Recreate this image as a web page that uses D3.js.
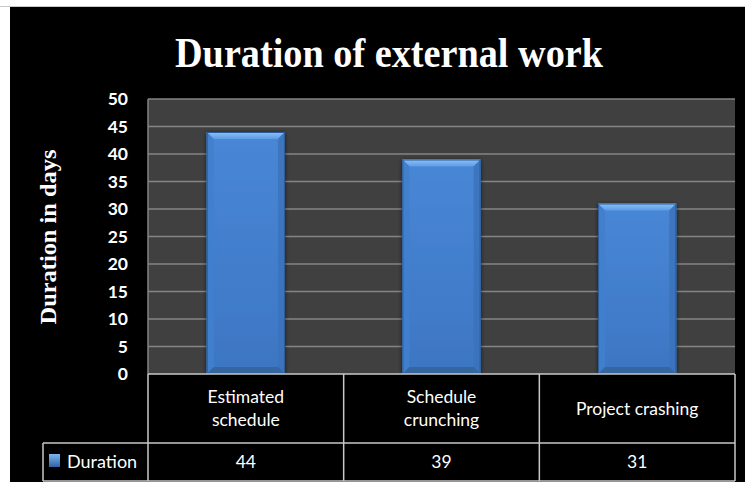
<!DOCTYPE html>
<html><head><meta charset="utf-8">
<script src="https://cdn.jsdelivr.net/npm/d3@7/dist/d3.min.js"></script>
<style>body{margin:0;background:#fff}svg{display:block}</style>
</head><body>
<svg id="c" width="745" height="484"></svg>
<script>
const categories = [["Estimated","schedule"],["Schedule","crunching"],["Project crashing"]];
const values = [44, 39, 31];
const seriesName = "Duration";
const yTicks = [0,5,10,15,20,25,30,35,40,45,50];
const title = "Duration of external work";
const yTitle = "Duration in days";

const svg = d3.select("#c");
svg.append("line").attr("x1",0).attr("x2",745).attr("y1",6.5).attr("y2",6.5).attr("stroke","#c8c8c8").attr("stroke-width",1);
svg.append("rect").attr("x",10).attr("y",7).attr("width",735).attr("height",475).attr("fill","#000");

const L=148, R=735, T=99, B=374;
const x = d3.scaleBand().domain(d3.range(categories.length)).range([L,R]).paddingInner(0.6).paddingOuter(0.3);
const xc = d3.scaleBand().domain(d3.range(categories.length)).range([L,R]);
const y = d3.scaleLinear().domain([0,50]).range([B,T]);

svg.append("rect").attr("x",L).attr("y",T).attr("width",R-L).attr("height",B-T).attr("fill","#404040");
svg.append("g").selectAll("line").data(yTicks.filter(d=>d>0)).join("line")
  .attr("x1",L).attr("x2",R).attr("y1",d=>y(d)).attr("y2",d=>y(d))
  .attr("stroke","#858585").attr("stroke-width",1.5);
svg.append("line").attr("x1",L).attr("x2",L).attr("y1",T).attr("y2",B).attr("stroke","#858585").attr("stroke-width",1.5);

const defs = svg.append("defs");
const g1 = defs.append("linearGradient").attr("id","body").attr("x1",0).attr("y1",0).attr("x2",0).attr("y2",1);
g1.append("stop").attr("offset","0").attr("stop-color","#4887d6");
g1.append("stop").attr("offset","1").attr("stop-color","#3d76c3");
const gt = defs.append("linearGradient").attr("id","top").attr("x1",0).attr("y1",0).attr("x2",0).attr("y2",1);
gt.append("stop").attr("offset","0").attr("stop-color","#8cc2f8");
gt.append("stop").attr("offset","1").attr("stop-color","#5c9be6");
const gs = defs.append("filter").attr("id","sh").attr("x","-20%").attr("y","-10%").attr("width","140%").attr("height","120%");
gs.append("feGaussianBlur").attr("in","SourceAlpha").attr("stdDeviation",2).attr("result","b");
gs.append("feOffset").attr("in","b").attr("dx",0).attr("dy",1).attr("result","o");
gs.append("feComponentTransfer").attr("in","o").attr("result","o2").append("feFuncA").attr("type","linear").attr("slope",0.6);
const fm = gs.append("feMerge"); fm.append("feMergeNode").attr("in","o2"); fm.append("feMergeNode").attr("in","SourceGraphic");

const bev = 7;
const bars = svg.append("g").selectAll("g").data(values).join("g").attr("filter","url(#sh)");
bars.each(function(v,i){
  const g = d3.select(this);
  const x0 = x(i), x1 = x(i)+x.bandwidth(), y0 = y(v), y1 = y(0);
  g.append("rect").attr("x",x0).attr("y",y0).attr("width",x1-x0).attr("height",y1-y0).attr("fill","url(#body)");
  g.append("polygon").attr("points",[[x0,y0],[x1,y0],[x1-bev,y0+bev],[x0+bev,y0+bev]].join(" ")).attr("fill","url(#top)");
  g.append("polygon").attr("points",[[x0,y0],[x0+bev,y0+bev],[x0+bev,y1-bev],[x0,y1]].join(" ")).attr("fill","#4180cd").attr("opacity",0.9);
  g.append("polygon").attr("points",[[x1,y0],[x1-bev,y0+bev],[x1-bev,y1-bev],[x1,y1]].join(" ")).attr("fill","#3b72bb").attr("opacity",0.9);
  g.append("polygon").attr("points",[[x0,y1],[x0+bev,y1-bev],[x1-bev,y1-bev],[x1,y1]].join(" ")).attr("fill","#34669f");
  g.append("rect").attr("x",x0+0.5).attr("y",y0+0.5).attr("width",x1-x0-1).attr("height",y1-y0-1).attr("fill","none").attr("stroke","#2e5c98").attr("stroke-width",1);
});

const fontT = "Lato, 'Open Sans', sans-serif";
svg.append("g").selectAll("text").data(yTicks).join("text")
  .attr("x",128).attr("y",d=>y(d)).attr("dy","0.35em").attr("text-anchor","end")
  .attr("fill","#fff").attr("font-family",fontT).attr("font-size",17.5).attr("font-weight","bold")
  .text(d=>d);

svg.append("text").attr("x",389).attr("y",67).attr("text-anchor","middle").attr("fill","#fff")
  .attr("font-family","'Liberation Serif','Times New Roman',serif").attr("font-weight","bold").attr("font-size",42)
  .attr("textLength",428).attr("lengthAdjust","spacingAndGlyphs").text(title);
svg.append("text").attr("transform","translate(56,237) rotate(-90)").attr("text-anchor","middle").attr("fill","#fff")
  .attr("font-family","'Liberation Serif','Times New Roman',serif").attr("font-weight","bold").attr("font-size",23)
  .attr("textLength",175).attr("lengthAdjust","spacingAndGlyphs").text(yTitle);

const r1 = 443, r2 = 481, LL = 43;
const tbl = svg.append("g").attr("stroke","#c8c8c8").attr("stroke-width",1.5);
tbl.append("line").attr("x1",L).attr("x2",R).attr("y1",B).attr("y2",B);
tbl.append("line").attr("x1",LL).attr("x2",R).attr("y1",r1).attr("y2",r1);
tbl.append("line").attr("x1",LL).attr("x2",R).attr("y1",r2).attr("y2",r2);
tbl.append("line").attr("x1",LL).attr("x2",LL).attr("y1",r1).attr("y2",r2);
tbl.selectAll("line.v").data(d3.range(categories.length+1)).join("line").attr("class","v")
  .attr("x1",i=>i<categories.length?xc(i):R).attr("x2",i=>i<categories.length?xc(i):R).attr("y1",B).attr("y2",r2);

categories.forEach((lines,i)=>{
  const cx = xc(i)+xc.bandwidth()/2;
  const t = svg.append("text").attr("text-anchor","middle").attr("fill","#fff").attr("font-family",fontT).attr("font-size",17.5);
  const mid = (B+r1)/2;
  lines.forEach((s,j)=>{
    t.append("tspan").attr("x",cx).attr("y",mid + (j-(lines.length-1)/2)*23).attr("dy","0.35em").text(s);
  });
});
svg.append("g").selectAll("text").data(values).join("text")
  .attr("x",(d,i)=>xc(i)+xc.bandwidth()/2).attr("y",(r1+r2)/2).attr("dy","0.35em").attr("text-anchor","middle")
  .attr("fill","#fff").attr("font-family",fontT).attr("font-size",17.5).text(d=>d);

const kg = defs.append("linearGradient").attr("id","key").attr("x1",0).attr("y1",0).attr("x2",0).attr("y2",1);
kg.append("stop").attr("offset","0").attr("stop-color","#7fb6f2");
kg.append("stop").attr("offset","1").attr("stop-color","#2f62a6");
svg.append("rect").attr("x",49).attr("y",454).attr("width",11).attr("height",13).attr("fill","url(#key)");
svg.append("text").attr("x",67).attr("y",(r1+r2)/2).attr("dy","0.35em").attr("fill","#fff")
  .attr("font-family",fontT).attr("font-size",18).text(seriesName);
</script>
</body></html>
